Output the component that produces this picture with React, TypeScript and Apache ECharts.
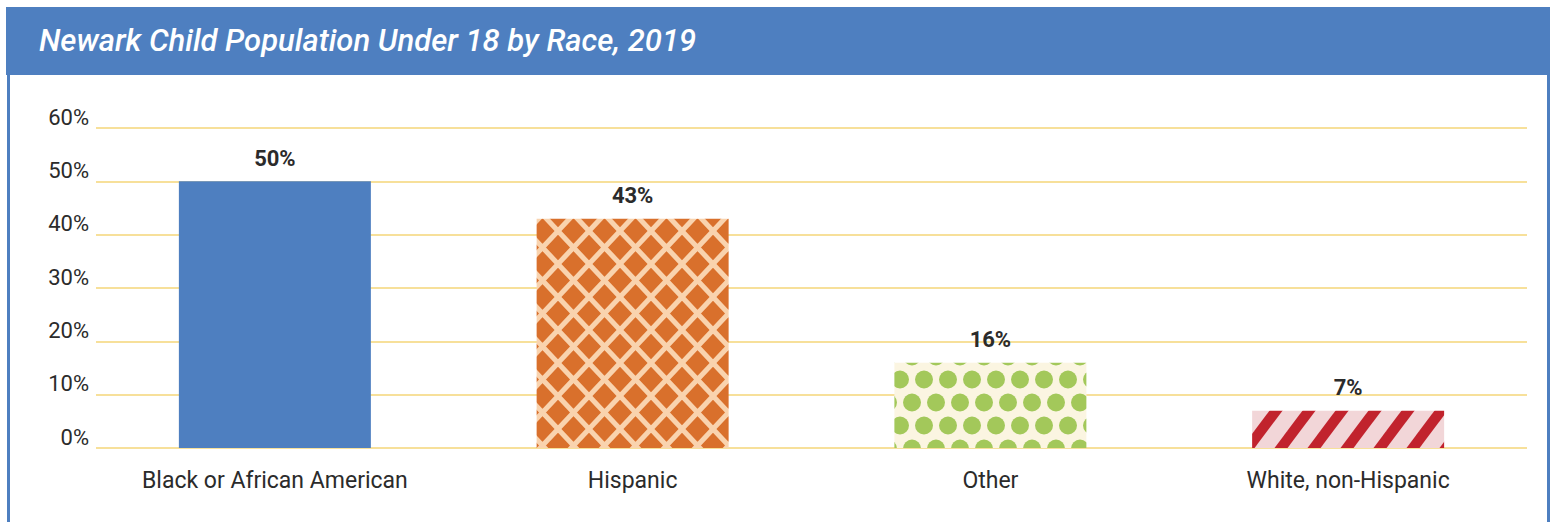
import React, { useEffect, useRef } from "react";
import * as echarts from "echarts";

const title = "Newark Child Population Under 18 by Race, 2019";
const categories = ["Black or African American", "Hispanic", "Other", "White, non-Hispanic"];
const values = [50, 43, 16, 7];
const yMin = 0;
const yMax = 60;
const yStep = 10;

function latticePattern() {
  const W = 31, H = 33;
  const c = document.createElement("canvas");
  c.width = W; c.height = H;
  const g = c.getContext("2d")!;
  g.fillStyle = "#D9702C";
  g.fillRect(0, 0, W, H);
  g.strokeStyle = "#F9D3AE";
  g.lineWidth = 5;
  for (const dx of [-W, 0, W]) {
    g.beginPath();
    g.moveTo(dx, 0); g.lineTo(dx + W, H);
    g.moveTo(dx + W, 0); g.lineTo(dx, H);
    g.stroke();
  }
  return { image: c, repeat: "repeat", imageWidth: W, imageHeight: H };
}

function dotPattern() {
  const W = 24, H = 46;
  const c = document.createElement("canvas");
  c.width = W; c.height = H;
  const g = c.getContext("2d")!;
  g.fillStyle = "#FBF5E1";
  g.fillRect(0, 0, W, H);
  g.fillStyle = "#A3C85A";
  const pts = [[12, 11.5], [0, 34.5], [24, 34.5]];
  for (const [x, y] of pts) {
    g.beginPath();
    g.arc(x, y, 9, 0, Math.PI * 2);
    g.fill();
  }
  return { image: c, repeat: "repeat", imageWidth: W, imageHeight: H };
}

function stripePattern() {
  const W = 33, H = 44, hw = 6.5;
  const c = document.createElement("canvas");
  c.width = W; c.height = H;
  const g = c.getContext("2d")!;
  g.fillStyle = "#F2D6D8";
  g.fillRect(0, 0, W, H);
  g.fillStyle = "#C1232D";
  for (const dx of [-W, 0, W]) {
    g.beginPath();
    g.moveTo(dx - hw, H);
    g.lineTo(dx + hw, H);
    g.lineTo(dx + W + hw, 0);
    g.lineTo(dx + W - hw, 0);
    g.closePath();
    g.fill();
  }
  return { image: c, repeat: "repeat", imageWidth: W, imageHeight: H };
}

export default function App() {
  const ref = useRef<HTMLDivElement>(null);
  useEffect(() => {
    const chart = echarts.init(ref.current!, null, { renderer: "svg" });
    const fills: any[] = ["#4E7FC0", latticePattern(), dotPattern(), stripePattern()];
    chart.setOption({
      animation: false,
      backgroundColor: "#FFFFFF",
      graphic: [
        { type: "rect", shape: { x: 6, y: 7, width: 1544, height: 68 }, style: { fill: "#4E7FC0" }, silent: true },
        { type: "rect", shape: { x: 7, y: 74, width: 3, height: 460 }, style: { fill: "#4E7FC0" }, silent: true },
        { type: "rect", shape: { x: 1547, y: 74, width: 3, height: 460 }, style: { fill: "#4E7FC0" }, silent: true },
        {
          type: "text",
          x: 39,
          y: 40,
          style: {
            text: title,
            fill: "#FFFFFF",
            font: "italic 500 31px Roboto",
            verticalAlign: "middle",
            align: "left",
          },
        },
      ],
      grid: { left: 96, right: 28, top: 128, bottom: 74, containLabel: false },
      xAxis: {
        type: "category",
        data: categories,
        axisLine: { show: false },
        axisTick: { show: false },
        axisLabel: { color: "#2B2B2B", fontFamily: "Roboto", fontSize: 23, margin: 21 },
      },
      yAxis: {
        type: "value",
        min: yMin,
        max: yMax,
        interval: yStep,
        axisLine: { show: false },
        axisTick: { show: false },
        axisLabel: {
          color: "#2B2B2B",
          fontFamily: "Roboto",
          fontSize: 22,
          margin: 7,
          verticalAlign: "bottom",
          lineHeight: 22,
          formatter: "{value}%",
        },
        splitLine: { lineStyle: { color: "#F7E09A", width: 2 } },
      },
      series: [
        {
          type: "bar",
          barWidth: 192,
          data: values.map((v, i) => ({ value: v, itemStyle: { color: fills[i] } })),
          label: {
            show: true,
            position: "top",
            distance: 12,
            formatter: "{c}%",
            color: "#2B2B2B",
            fontFamily: "Roboto",
            fontWeight: "bold",
            fontSize: 22,
          },
        },
      ],
    });
    return () => chart.dispose();
  }, []);
  return <div ref={ref} style={{ position: "absolute", left: 0, top: 0, width: 1555, height: 522 }} />;
}
